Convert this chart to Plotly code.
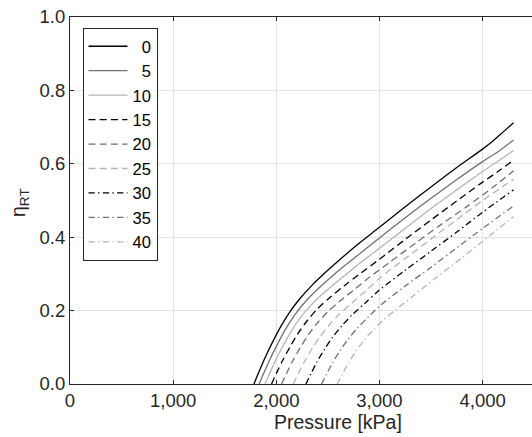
import plotly.graph_objects as go

# Round-trip efficiency versus pressure for several temperature offsets
labels = ["0", "5", "10", "15", "20", "25", "30", "35", "40"]

p_0 = [1783, 1830, 1890, 1960, 2040, 2130, 2230, 2350, 2480, 2620, 2800, 3000, 3250, 3500, 3750, 4000, 4100, 4200, 4300]
eta_0 = [0.0, 0.032, 0.071, 0.112, 0.155, 0.196, 0.233, 0.270, 0.305, 0.340, 0.383, 0.427, 0.483, 0.537, 0.590, 0.640, 0.662, 0.687, 0.712]

p_5 = [1834, 1881, 1941, 2011, 2091, 2181, 2281, 2400, 2530, 2670, 2800, 3000, 3250, 3500, 3750, 4000, 4150, 4300]
eta_5 = [0.0, 0.031, 0.069, 0.108, 0.150, 0.189, 0.224, 0.258, 0.291, 0.324, 0.353, 0.398, 0.453, 0.506, 0.557, 0.606, 0.633, 0.665]

p_10 = [1890, 1937, 1997, 2067, 2147, 2237, 2337, 2460, 2600, 2800, 3000, 3250, 3500, 3750, 4000, 4150, 4300]
eta_10 = [0.0, 0.030, 0.067, 0.105, 0.145, 0.182, 0.215, 0.248, 0.281, 0.327, 0.370, 0.424, 0.478, 0.529, 0.579, 0.607, 0.636]

p_15 = [1954, 2001, 2061, 2131, 2211, 2301, 2400, 2520, 2660, 2800, 3000, 3250, 3500, 3750, 4000, 4150, 4300]
eta_15 = [0.0, 0.029, 0.064, 0.100, 0.138, 0.173, 0.205, 0.236, 0.268, 0.298, 0.340, 0.394, 0.447, 0.499, 0.550, 0.579, 0.610]

p_20 = [2051, 2098, 2158, 2228, 2308, 2398, 2500, 2620, 2760, 2900, 3100, 3350, 3600, 3850, 4100, 4300]
eta_20 = [0.0, 0.028, 0.062, 0.097, 0.133, 0.166, 0.197, 0.227, 0.258, 0.290, 0.332, 0.384, 0.435, 0.484, 0.536, 0.581]

p_25 = [2164, 2211, 2271, 2341, 2421, 2511, 2610, 2730, 2860, 3000, 3250, 3500, 3750, 4000, 4300]
eta_25 = [0.0, 0.027, 0.060, 0.094, 0.128, 0.160, 0.190, 0.220, 0.252, 0.288, 0.342, 0.395, 0.448, 0.500, 0.558]

p_30 = [2287, 2334, 2394, 2464, 2544, 2634, 2740, 2860, 3000, 3250, 3500, 3750, 4000, 4300]
eta_30 = [0.0, 0.027, 0.060, 0.093, 0.127, 0.158, 0.190, 0.220, 0.256, 0.310, 0.362, 0.414, 0.468, 0.529]

p_35 = [2439, 2486, 2546, 2616, 2696, 2786, 2890, 3000, 3250, 3500, 3750, 4000, 4300]
eta_35 = [0.0, 0.026, 0.058, 0.090, 0.122, 0.152, 0.182, 0.212, 0.267, 0.318, 0.371, 0.424, 0.485]

p_40 = [2590, 2637, 2697, 2767, 2847, 2937, 3040, 3160, 3300, 3550, 3800, 4050, 4300]
eta_40 = [0.0, 0.025, 0.056, 0.087, 0.118, 0.147, 0.175, 0.203, 0.234, 0.290, 0.344, 0.400, 0.456]

x_ticks = [0, 1000, 2000, 3000, 4000]
y_ticks = [0.0, 0.2, 0.4, 0.6, 0.8, 1.0]

pressures = [p_0, p_5, p_10, p_15, p_20, p_25, p_30, p_35, p_40]
efficiencies = [eta_0, eta_5, eta_10, eta_15, eta_20, eta_25, eta_30, eta_35, eta_40]

BLACK, GRAY, LIGHT = "#000000", "#707070", "#b4b4b4"
DASH = "7px,4.2px"
DASHDOT = "6.3px,3.3px,1.4px,3.3px"
line_colors = [BLACK, GRAY, LIGHT] * 3
line_dashes = ["solid"] * 3 + [DASH] * 3 + [DASHDOT] * 3

AX = "#262626"
FONT = "Liberation Sans, Arial, Helvetica, sans-serif"

W, H = 532, 437
ML, MR, MT, MB = 70, 0, 17, 53
plot_w = W - ML - MR
plot_h = H - MT - MB

fig = go.Figure()
for lab, px, ey, col, dash in zip(labels, pressures, efficiencies, line_colors, line_dashes):
    pad = "\u00a0\u00a0" if len(lab) == 1 else ""
    fig.add_trace(go.Scatter(
        x=px, y=ey, mode="lines", name=pad + lab,
        line=dict(color=col, width=1.3, dash=dash, shape="spline", smoothing=0.8),
    ))

fig.update_layout(
    width=W, height=H,
    margin=dict(l=ML, r=MR, t=MT, b=MB),
    paper_bgcolor="white", plot_bgcolor="white",
    font=dict(family=FONT, size=18.5, color=AX),
    showlegend=True,
    legend=dict(
        x=(82.5 - ML) / plot_w, y=(384 - 28) / plot_h,
        xanchor="left", yanchor="top",
        bgcolor="white", bordercolor=AX, borderwidth=1,
        font=dict(family=FONT, size=16.5, color="#000000"),
        itemwidth=39, tracegroupgap=0,
    ),
    xaxis=dict(
        range=[0, 4479], tickvals=x_ticks, tickformat=",d",
        showgrid=True, gridcolor="#e3e3e3", gridwidth=1,
        showline=True, linecolor=AX, linewidth=1, mirror="ticks",
        ticks="inside", ticklen=4, tickcolor=AX,
        zeroline=False,
    ),
    yaxis=dict(
        range=[0, 1], tickvals=y_ticks, tickformat=".1f",
        showgrid=True, gridcolor="#e3e3e3", gridwidth=1,
        showline=True, linecolor=AX, linewidth=1, mirror=False,
        ticks="inside", ticklen=4, tickcolor=AX,
        zeroline=False,
    ),
)

fig.add_annotation(
    text="Pressure [kPa]", xref="paper", yref="paper",
    x=(338 - ML) / plot_w, y=(384 - 422) / plot_h,
    xanchor="center", yanchor="middle", showarrow=False,
    font=dict(family=FONT, size=19.5, color=AX),
)
fig.add_annotation(
    text="η<sub>RT</sub>", xref="paper", yref="paper",
    x=(20 - ML) / plot_w, y=(384 - 203) / plot_h,
    xanchor="center", yanchor="middle", textangle=-90, showarrow=False,
    font=dict(family=FONT, size=19.5, color=AX),
)

fig.write_html("out.html")
